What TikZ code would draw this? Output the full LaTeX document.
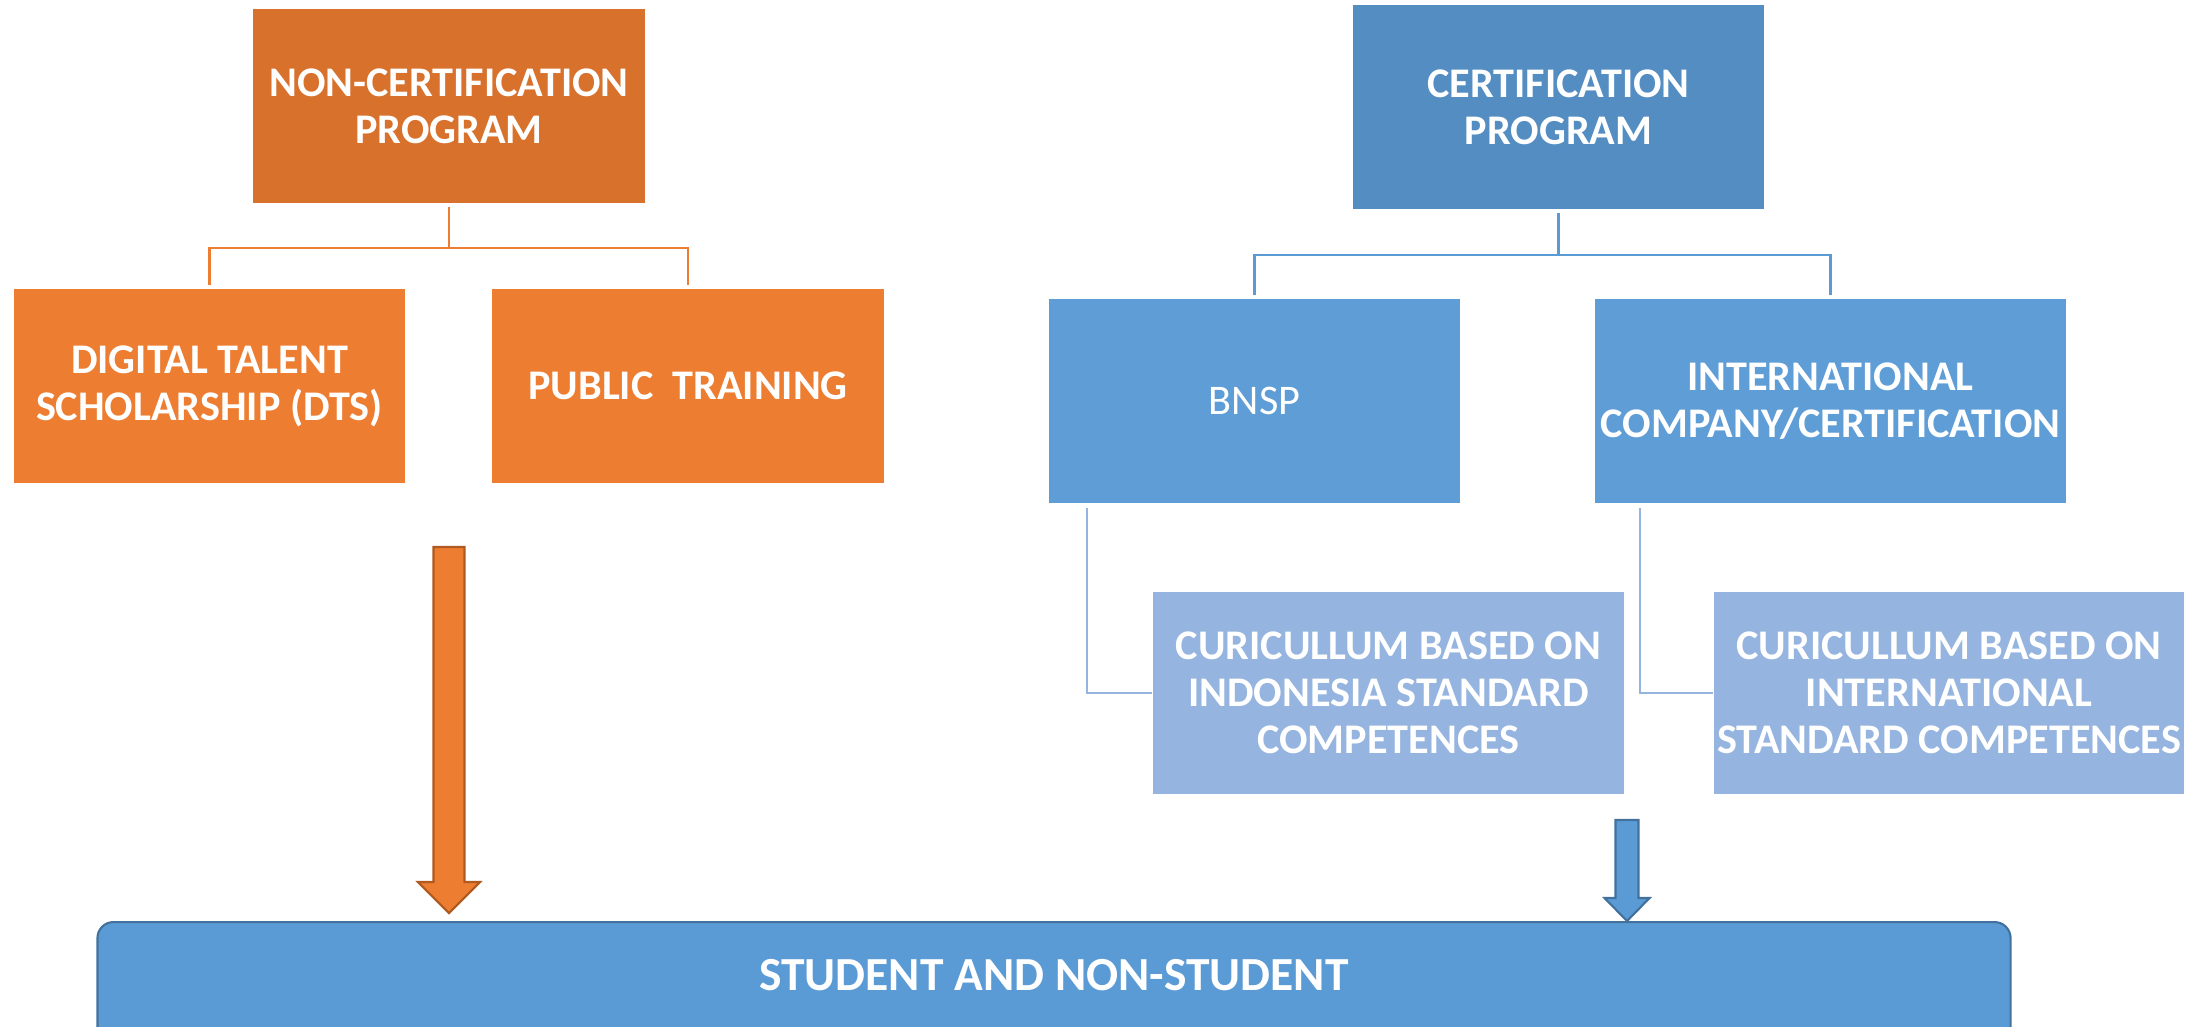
\documentclass[tikz,border=0pt]{standalone}
\usepackage{fontspec}
\setmainfont{Carlito}
\usepackage{xcolor}
\definecolor{nco}{HTML}{D8712C}
\definecolor{ora}{HTML}{ED7D31}
\definecolor{ord}{HTML}{AE5A21}
\definecolor{ceb}{HTML}{538DC2}
\definecolor{blu}{HTML}{5F9DD6}
\definecolor{cub}{HTML}{95B4DF}
\definecolor{bld}{HTML}{41719C}
\definecolor{stb}{HTML}{5B9BD5}
\usetikzlibrary{arrows.meta, positioning, calc}

\begin{document}
\begin{tikzpicture}[x=0.01cm, y=-0.01cm,
    box/.style={rectangle, text=white, align=center, inner sep=0pt,
      font=\fontsize{12}{13.4}\selectfont\bfseries},
    oline/.style={draw=ora, line width=0.6pt, shorten <=0.03cm, shorten >=0.03cm},
    bline/.style={draw=stb, line width=0.6pt, shorten <=0.03cm, shorten >=0.03cm},
    cline/.style={draw=cub, line width=0.6pt, shorten <=0.04cm},
    oarrow/.style={fill=ora, draw=ord, line width=0.6pt},
    barrow/.style={fill=stb, draw=bld, line width=0.6pt}]
    % Page size
    \useasboundingbox (0,0) rectangle (2207,1026);
    \clip (0,0) rectangle (2207,1026);

    % Non-certification side
    \node[box, fill=nco, minimum width=3.92cm, minimum height=1.94cm] (nonc) at (449,106) {NON-CERTIFICATION\\PROGRAM};
    \node[box, fill=ora, minimum width=3.91cm, minimum height=1.94cm] (dts) at (209.5,386) {DIGITAL TALENT\\SCHOLARSHIP (DTS)};
    \node[box, fill=ora, minimum width=3.92cm, minimum height=1.94cm] (pub) at (688,386) {PUBLIC\ \ TRAINING};

    % Certification side
    \node[box, fill=ceb, minimum width=4.11cm, minimum height=2.04cm] (cert) at (1558.5,107) {CERTIFICATION\\PROGRAM};
    \node[box, fill=blu, font=\fontsize{12}{13.4}\selectfont, minimum width=4.11cm, minimum height=2.04cm] (bnsp) at (1254.5,401) {BNSP};
    \node[box, fill=blu, minimum width=4.71cm, minimum height=2.04cm] (intl) at (1830.5,401) {INTERNATIONAL\\COMPANY/CERTIFICATION};
    \node[box, fill=cub, minimum width=4.71cm, minimum height=2.02cm] (cur1) at (1388.5,693) {CURICULLUM BASED ON\\INDONESIA STANDARD\\COMPETENCES};
    \node[box, fill=cub, minimum width=4.70cm, minimum height=2.02cm] (cur2) at (1949,693) {CURICULLUM BASED ON\\INTERNATIONAL\\STANDARD COMPETENCES};

    % Bottom box, runs off the page
    \node[box, fill=stb, draw=bld, line width=0.6pt, rounded corners=0.16cm,
      font=\fontsize{13.5}{15}\selectfont\bfseries, anchor=north,
      text height=0.685cm, text depth=0.75cm,
      minimum width=19.12cm] (stud) at (1054,921) {STUDENT AND NON-STUDENT};

    % Tree lines
    \draw[oline] (nonc.south) -- ++(0,44) -| (dts.north);
    \draw[oline] (nonc.south) -- ++(0,44) -| (pub.north);
    \draw[bline] (cert.south) -- ++(0,45) -| (bnsp.north);
    \draw[bline] (cert.south) -- ++(0,45) -| (intl.north);
    \draw[cline] ([xshift=0.39cm]bnsp.south west) |- (cur1.west);
    \draw[cline] ([xshift=0.46cm]intl.south west) |- (cur2.west);

    % Block arrows down to the bottom box
    \coordinate (otop) at (449,547);
    \coordinate (otip) at ([yshift=0.08cm]stud.north -| otop);
    \draw[oarrow] ($(otop)+(-15.5,0)$) -- ($(otip)+(-15.5,-31)$) -- ($(otip)+(-31,-31)$) -- (otip)
      -- ($(otip)+(31,-31)$) -- ($(otip)+(15.5,-31)$) -- ($(otop)+(15.5,0)$) -- cycle;
    \coordinate (btop) at (1627,820);
    \coordinate (btip) at (stud.north -| btop);
    \draw[barrow] ($(btop)+(-11.5,0)$) -- ($(btip)+(-11.5,-23)$) -- ($(btip)+(-22.5,-23)$) -- (btip)
      -- ($(btip)+(22.5,-23)$) -- ($(btip)+(11.5,-23)$) -- ($(btop)+(11.5,0)$) -- cycle;
\end{tikzpicture}
\end{document}
